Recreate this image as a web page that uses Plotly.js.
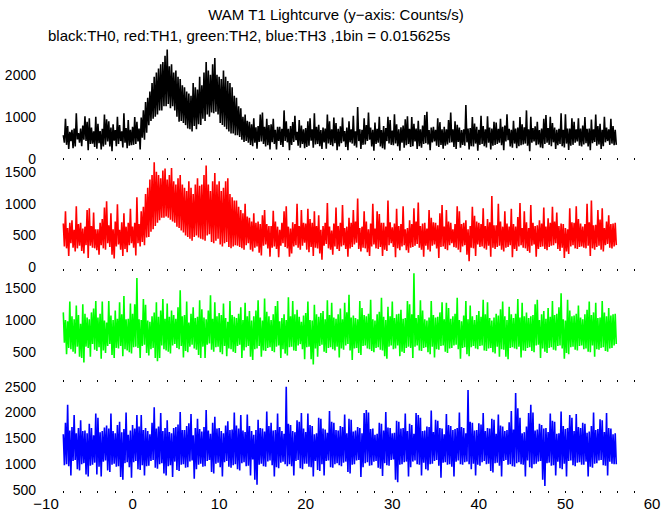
<!DOCTYPE html>
<html>
<head>
<meta charset="utf-8">
<script src="https://cdn.plot.ly/plotly-3.0.1.min.js"></script>
<style>html,body{margin:0;padding:0;background:#fff;}#chart{width:672px;height:515px;}</style>
</head>
<body>
<div id="chart"></div>
<script>
// time axis: start of series (s) and bin width used for these readings (s)
const t0 = -8;
const dt = 0.125;

// TH0 (black), counts/s
const th0 = [
560,380,950,330,780,230,640,420, 690,250,720,290,1080,460,610,380, 720,300,790,450,1010,420,880,200, 960,350,740,360,650,280,1000,240,
830,370,660,220,710,290,1050,330, 940,410,890,290,740,180,820,430, 680,300,1000,350,800,420,650,270, 1080,380,730,250,920,310,690,320,
760,330,990,350,880,410,720,220, 980,500,1150,450,1350,620,1450,800, 1600,900,1800,950,1950,1000,2050,1050, 2150,1150,2250,1150,2300,1250,2450,1250,
2600,1300,2200,1200,2250,1250,2050,1150, 2100,1000,1950,880,1900,900,1750,850, 1700,800,1600,720,1550,700,1500,650, 1800,780,1700,700,1650,820,1950,800,
1750,950,2050,900,2300,1050,2100,1000, 2000,1100,2250,1080,2400,1120,2000,1050, 1950,850,1900,800,2100,760,1950,700, 1850,650,1800,600,1700,600,1500,560,
1450,560,1250,520,1200,450,1000,400, 1050,420,900,380,880,330,820,300, 960,380,750,240,780,400,1050,410, 1100,350,760,290,950,320,800,220,
820,390,950,350,690,220,760,420, 760,330,710,280,1150,420,890,390, 710,200,780,330,870,400,1020,440, 640,310,920,260,790,350,700,250,
730,280,890,310,960,430,700,260, 1080,340,760,350,810,300,680,230, 740,390,720,240,1050,360,890,330, 700,300,980,370,850,200,710,290,
770,370,980,410,660,280,740,200, 890,390,700,360,1020,310,650,270, 1230,420,700,230,690,330,960,340, 800,420,1100,450,740,290,690,190,
860,350,710,380,1000,290,680,250, 780,220,730,420,1000,360,920,330, 670,320,1060,360,820,300,700,190, 750,380,790,260,940,320,1010,350,
710,280,990,300,830,410,720,230, 900,300,700,260,790,350,1040,370, 1120,340,680,200,740,390,760,410, 690,310,960,280,870,330,700,240,
760,310,700,340,920,380,1100,390, 700,280,890,230,810,400,740,260, 680,330,700,310,1280,390,720,220, 730,300,990,290,840,360,760,190,
690,330,1020,350,780,300,700,270, 1010,380,740,220,720,310,880,330, 860,350,710,380,950,320,760,200, 790,410,1060,440,710,290,690,260,
900,360,720,250,740,300,990,320, 820,340,750,360,1150,310,700,180, 1000,380,730,410,770,320,880,340, 680,270,720,250,950,350,1040,380,
730,330,1000,300,850,390,740,230, 690,320,710,350,1080,300,690,270, 1060,360,720,210,720,310,960,330, 880,380,700,410,960,310,720,290,
790,340,990,370,710,290,720,200, 930,370,700,400,1050,310,780,340, 830,230,690,300,1000,390,740,420, 700,330,950,360,780,320,690,330
];

// TH1 (red), counts/s
const th1 = [
690,330,880,300,620,180,700,380, 740,310,590,250,960,300,680,340, 700,260,610,220,640,350,900,150, 930,340,650,310,860,300,600,270,
600,200,700,350,760,300,940,280, 1040,380,660,320,850,200,600,140, 720,330,990,360,590,280,710,180, 850,290,640,240,700,350,920,380,
640,310,700,190,1100,380,680,330, 880,400,950,350,1150,470,1250,480, 1380,560,1450,600,1650,650,1500,700, 1450,740,1400,780,1520,780,1550,800,
1380,780,1450,750,1560,720,1350,700, 1300,640,1400,620,1450,580,1300,550, 1250,500,1200,480,1350,450,1250,420, 1150,480,1300,500,1400,470,1280,450,
1300,440,1450,420,1600,500,1300,520, 1200,400,1350,380,1480,420,1300,450, 1350,360,1200,330,1250,380,1350,400, 1400,320,1150,300,1100,330,1050,350,
1050,340,950,320,900,300,850,280, 1000,350,800,380,780,280,720,250, 850,310,700,330,720,230,680,190, 820,340,900,360,680,300,650,170,
650,310,890,330,720,290,640,160, 590,340,700,380,880,320,960,300, 640,170,610,220,710,330,680,350, 1000,310,650,280,900,340,700,390,
690,280,920,240,760,320,700,180, 880,310,650,300,820,220,590,120, 650,340,700,370,1010,300,640,280, 580,200,690,330,940,290,650,260,
700,330,980,350,620,290,640,170, 780,300,700,320,900,360,720,390, 1080,290,620,250,640,310,880,300, 720,240,600,180,690,330,1000,360,
610,300,880,290,840,320,700,180, 700,280,640,260,1050,350,710,380, 630,320,690,160,920,300,650,270, 680,330,960,350,600,270,620,230,
740,310,680,320,930,340,720,370, 1020,310,650,280,690,170,700,340, 610,280,900,250,780,340,710,360, 700,300,660,150,850,320,980,330,
640,290,900,270,720,350,700,380, 600,320,680,310,960,280,880,240, 680,330,700,350,740,200,600,100, 650,310,950,300,810,180,720,360,
700,320,680,330,930,300,650,280, 760,340,710,170,1120,310,660,290, 660,320,1000,340,720,280,640,250, 880,310,690,320,640,350,920,160,
680,290,640,260,790,330,1010,350, 620,310,880,300,710,260,620,230, 980,340,700,360,650,170,660,290, 740,320,690,330,940,290,640,270,
770,320,700,340,950,350,720,380, 860,290,650,260,690,310,680,150, 620,250,600,210,930,330,710,350, 700,300,960,290,760,320,690,330,
640,310,680,300,1000,340,710,180, 1050,300,660,280,670,320,900,340, 750,280,930,250,620,350,720,370, 820,310,680,300,690,330,700,350
];

// TH2 (green), counts/s
const th2 = [
1120,640,1000,460,980,560,1290,540, 1060,500,1010,470,1230,580,1080,420, 940,400,1250,330,1100,580,1040,560, 1010,420,1120,620,1180,530,1300,510,
1040,570,1100,390,1290,520,990,480, 960,590,1300,620,1070,450,1000,400, 1150,560,1020,550,1280,590,1090,430, 1380,540,1010,520,1020,490,1260,470,
1100,570,1250,580,1662,560,1010,400, 1000,590,1330,610,1240,480,990,440, 970,540,1060,560,1120,400,1280,350, 1050,400,1150,600,1330,540,1020,520,
1260,500,1050,470,1150,600,1080,620, 1020,560,1200,540,1470,590,1060,410, 1080,510,1290,490,960,580,1100,610, 1200,550,1030,530,1050,450,1310,400,
1170,580,1040,400,1010,610,1150,630, 1390,530,1020,500,1280,570,1060,580, 1110,490,1080,460,1260,590,1030,430, 970,550,1300,540,1080,500,1050,480,
1030,590,1100,610,1200,400,1000,520, 1270,570,1060,590,1140,420,990,370, 1060,540,1150,550,1310,590,1040,420, 990,520,1340,510,1130,560,1060,570,
1000,510,1090,490,1220,580,1300,600, 980,400,1030,540,1090,470,1000,440, 1360,570,1060,580,1300,520,1090,510, 1160,600,1050,620,970,540,1070,380,
1110,570,1290,580,1000,380,990,300, 1240,550,1090,420,1050,590,1110,610, 1140,500,1010,480,1310,560,1080,570, 1270,540,1040,520,1020,580,1090,410,
1180,550,1010,530,1270,600,1120,620, 1400,520,1040,370,1070,550,1030,560, 1010,480,1300,450,1190,590,1080,600, 1060,550,1100,540,1320,510,1010,490,
990,560,1090,570,1130,530,1350,520, 1050,430,1000,390,1210,580,1060,600, 1290,540,1030,550,1090,600,1100,430, 1160,500,1020,480,1030,560,1300,580,
1250,560,1090,400,1736,580,1030,600, 1080,520,1310,510,1150,560,1010,570, 990,490,1040,460,1300,580,1080,410, 1040,540,1050,530,1120,590,1280,600,
1010,500,1270,480,1190,550,1020,560, 1060,600,1100,610,1350,540,1000,390, 980,560,1070,570,1300,460,1010,430, 1230,570,1060,590,1000,550,1080,540,
1140,590,1050,600,1320,520,1090,510, 1280,550,1030,560,990,490,1040,470, 1100,580,1070,420,1170,540,1290,530, 1060,420,1000,380,1210,560,1090,570,
1030,550,1100,540,1330,580,1040,410, 1270,520,1060,510,1120,560,1030,570, 1060,510,1080,490,1250,600,1320,610, 1000,400,1090,550,1140,500,1020,480,
1190,560,1050,570,1300,530,1080,520, 1100,590,1200,600,1420,550,1010,390, 990,480,1320,460,1150,570,1060,580, 1070,530,1100,520,1230,590,1040,600,
1010,540,1090,550,1160,500,1290,490, 1080,600,1120,420,1270,540,1030,530, 1040,560,1300,570,1120,510,1060,500, 1190,550,1070,560,1090,600,1100,620
];

// TH3 (blue), counts/s
const th3 = [
1580,980,1800,1000,2150,960,1650,780, 1720,1060,1950,1080,1600,900,1700,880, 1850,1000,1640,1020,1650,800,1600,760, 1780,970,1700,990,1560,1030,1980,800,
1900,950,1620,760,1640,1050,1710,1070, 1750,880,1690,850,1980,990,1640,1010, 1600,950,1760,960,1820,750,1620,700, 1680,1020,2000,1040,1570,940,1650,740,
1760,1040,1690,1060,1950,900,1730,890, 1950,980,1660,780,1700,960,1640,970, 1580,1060,1800,1080,2100,930,1690,910, 1730,1000,1990,1020,1640,820,1700,780,
1850,960,1620,980,1600,750,1700,1050, 1720,890,1770,870,2010,990,1660,1000, 1660,930,1740,940,1790,1050,1970,1070, 1560,720,1700,900,1880,990,1680,1010,
1630,950,1720,960,2050,1060,1650,1080, 1590,850,1800,820,1920,1010,1690,1030, 1700,940,1640,760,1600,1040,1750,1060, 1830,950,1660,930,1670,980,2000,1000,
1750,900,1690,880,1950,1020,1650,1040, 1620,960,1960,970,1740,780,1640,1090, 1570,700,1660,600,1860,990,1700,1010, 1690,960,1630,950,2020,1050,1740,1070,
1800,980,1650,760,1660,940,1980,920, 1720,1030,1640,1050,1590,1000,2500,960, 1780,1000,1760,960,1640,780,1620,1060, 1850,1080,1820,920,1990,900,1690,1010,
1620,1010,1980,950,1760,940,1740,760, 1580,1060,1600,890,1900,870,1880,1000, 1690,780,1670,1060,1610,1070,2030,940, 1820,930,1800,1000,1660,1020,1650,980,
1740,960,1720,1030,1960,1050,1600,850, 1880,820,1860,990,1630,1000,1650,1070, 1720,1080,1700,750,1600,940,1990,1020, 2050,1040,2000,970,1680,980,1690,1050,
1570,1060,1590,930,1800,910,1780,770, 1650,1020,2010,980,1710,970,1700,1080, 1600,1090,1610,700,1840,650,1820,990, 1690,1000,1700,1040,1980,1050,1640,760,
1780,940,1760,1050,1590,1070,1990,1000, 1950,990,1900,780,1640,1030,1650,900, 1730,880,1720,1000,2040,1010,1620,1060, 1860,1080,1840,970,1700,740,1690,1030,
1580,1040,1970,990,1760,1000,1740,950, 1660,760,1680,1050,1700,1070,2000,1000, 1720,990,1700,1040,1600,1050,2436,1000, 1820,900,1800,1010,1650,780,1660,990,
1790,970,1770,1040,1990,1060,1640,1000, 1700,1010,1690,870,1880,840,1860,1020, 1590,1030,1960,970,1750,760,1730,1060, 1640,1080,1660,990,1810,1000,2030,960,
1670,950,2380,1020,2080,1040,1900,1000, 1600,990,1620,760,1730,1070,1990,940, 2150,920,2000,1000,1650,1010,1670,1050, 1780,1060,1760,700,1690,580,1700,1020,
1620,1030,1980,970,1840,980,1820,780, 1590,1050,1600,920,2020,900,1740,1010, 1680,760,1700,1060,1950,1070,1900,980, 1640,960,1970,1030,1720,1040,1700,990,
1800,990,1780,1050,1610,760,1630,950, 1740,930,2000,1010,1660,1020,1680,1070, 1870,1080,1850,980,1620,970,1990,780, 1700,1050,1690,1010,1580,1000,1600,1000
];

const seriesNames = ['TH0','TH1','TH2','TH3'];
const seriesColors = ['#000000','#ff0000','#00ff00','#0000ff'];
const seriesData = [th0, th1, th2, th3];

const xTickVals = [-10,0,10,20,30,40,50,60];
const yTicks = {
  TH0: [0,1000,2000],
  TH1: [0,500,1000,1500],
  TH2: [500,1000,1500],
  TH3: [500,1000,1500,2000,2500]
};
const titleText = 'WAM T1 Lightcurve (y\u2212axis: Counts/s)';
const subText = 'black:TH0, red:TH1, green:TH2, blue:TH3 ,1bin = 0.015625s';

const FONT = 'Liberation Sans, Arial, Helvetica, sans-serif';
// panel order top->bottom; axis ids
const axIds = ['4','3','2',''];
const yRanges = [[-31,2612],[-55,1685],[22,1773],[442,2591]];
const domains = [[0.75,1],[0.5,0.75],[0.25,0.5],[0,0.25]];

const traces = seriesData.map((vals, k) => ({
  type: 'scatter',
  mode: 'lines',
  name: seriesNames[k],
  x: vals.map((_, i) => t0 + i*dt),
  y: vals,
  xaxis: 'x' + axIds[k],
  yaxis: 'y' + axIds[k],
  line: {color: seriesColors[k], width: 1.6},
  hoverinfo: 'skip'
}));

const layout = {
  width: 672, height: 515,
  margin: {l: 46, r: 20, t: 49, b: 22, pad: 0},
  paper_bgcolor: '#ffffff', plot_bgcolor: '#ffffff',
  showlegend: false,
  font: {family: FONT, size: 15, color: '#000'},
  title: {text: titleText, x: 0.5, xref: 'container', xanchor: 'center',
          y: 1 - 15/515, yref: 'container', yanchor: 'middle',
          font: {family: FONT, size: 15, color: '#000'}},
  annotations: [{
    text: subText, xref: 'paper', yref: 'paper', x: 0, y: 1 + 14/444,
    xanchor: 'left', yanchor: 'middle', showarrow: false,
    font: {family: FONT, size: 15, color: '#000'}
  }]
};

for (let k = 0; k < 4; k++) {
  const id = axIds[k];
  const xa = {
    domain: [0,1], range: [-10,60], anchor: 'y' + id,
    tickvals: xTickVals, ticks: 'inside', ticklen: 2, tickwidth: 1, tickcolor: '#000',
    minor: {dtick: 2, tick0: 0, ticks: 'inside', ticklen: 2, tickwidth: 1, tickcolor: '#000', showgrid: false},
    showgrid: false, zeroline: false, showline: false,
    showticklabels: k === 3,
    tickfont: {family: FONT, size: 15, color: '#000'}
  };
  if (k !== 3) xa.matches = 'x';
  const ya = {
    domain: domains[k], range: yRanges[k], anchor: 'x' + id,
    tickvals: yTicks[seriesNames[k]], ticks: '', showgrid: false, zeroline: false, showline: false,
    ticklabelstandoff: 9,
    tickfont: {family: FONT, size: 14, color: '#000'}
  };
  layout['xaxis' + id] = xa;
  layout['yaxis' + id] = ya;
}

Plotly.newPlot('chart', traces, layout, {staticPlot: true, displayModeBar: false});
</script>
</body>
</html>
